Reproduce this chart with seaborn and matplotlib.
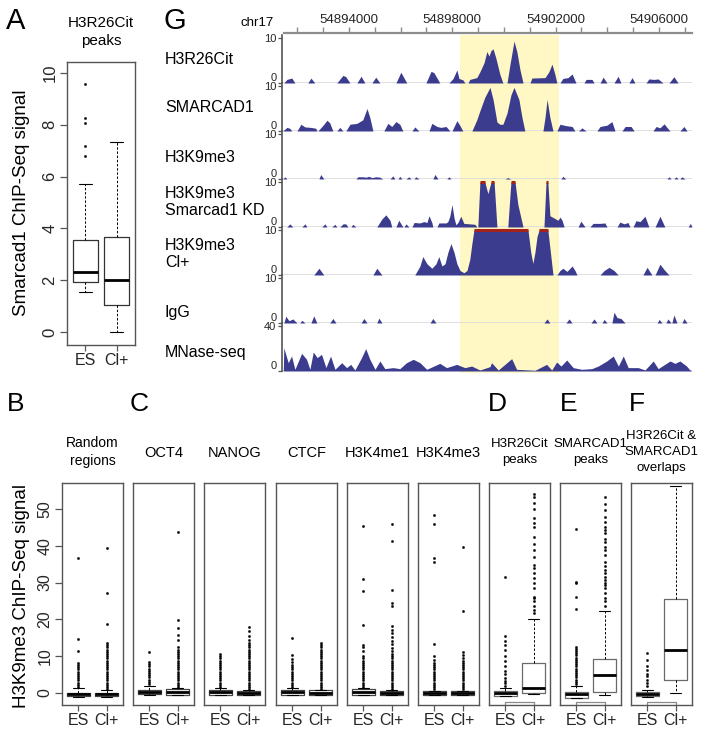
import numpy as np
import matplotlib
matplotlib.use("Agg")
import matplotlib.pyplot as plt
import seaborn as sns
from matplotlib import font_manager
from matplotlib.ticker import FixedLocator, MultipleLocator, FuncFormatter

# ---------------------------------------------------------------- data
conditions = ["ES", "Cl+"]

# Panel A: Smarcad1 ChIP-Seq signal at H3R26Cit peaks
A_title = "H3R26Cit\npeaks"
A_q1 = [1.92, 1.04]
A_med = [2.33, 2.01]
A_q3 = [3.54, 3.66]
A_lo = [1.53, 0.0]
A_hi = [5.70, 7.34]
A_out_es = [6.80, 7.18, 8.08, 8.25, 9.56]
A_out_cl = []

# Panels B-F: H3K9me3 ChIP-Seq signal
panel_titles = ["Random\nregions", "OCT4", "NANOG", "CTCF", "H3K4me1", "H3K4me3",
                "H3R26Cit\npeaks", "SMARCAD1\npeaks", "H3R26Cit &\nSMARCAD1\noverlaps"]
es_q1 = [-0.9, -0.4, -0.5, -0.5, -0.6, -0.6, -0.8, -1.4, -0.9]
es_med = [-0.4, 0.2, 0.2, 0.3, 0.3, -0.1, 0.0, -0.3, -0.3]
es_q3 = [0.0, 0.8, 0.7, 0.9, 1.0, 0.4, 0.5, 0.2, 0.3]
es_lo = [-1.0, -0.5, -0.6, -0.6, -0.7, -0.7, -0.9, -1.5, -1.0]
es_hi = [1.3, 1.9, 1.4, 1.4, 1.4, 0.6, 1.4, 2.0, 0.9]
cl_q1 = [-0.9, -0.5, -0.5, -0.5, -0.6, -0.6, -0.1, 0.2, 3.6]
cl_med = [-0.4, 0.3, 0.1, 0.1, 0.0, -0.1, 1.3, 4.8, 11.8]
cl_q3 = [0.0, 1.0, 0.6, 0.7, 0.6, 0.4, 8.0, 9.2, 25.6]
cl_lo = [-1.0, -0.6, -0.6, -0.6, -0.7, -0.7, -0.3, -0.5, 0.0]
cl_hi = [0.8, 1.4, 0.9, 0.9, 0.8, 0.6, 20.1, 22.2, 56.2]
es_outliers = [
    [1.6, 2.2, 2.8, 3.4, 4.0, 4.6, 5.2, 5.8, 6.4, 7.0, 7.6, 8.1, 11.3, 14.7, 36.6],
    [2.4, 3.0, 3.6, 4.2, 4.8, 5.4, 6.0, 6.6, 7.2, 7.8, 8.4, 11.0],
    [1.6, 2.2, 2.8, 3.4, 4.0, 4.6, 5.2, 5.8, 6.4, 7.0, 7.6, 8.2, 8.8, 9.4, 10.0, 10.6],
    [1.6, 2.2, 2.8, 3.4, 4.0, 4.6, 5.2, 5.8, 6.4, 7.0, 7.6, 8.3, 9.2, 10.3, 14.8],
    [1.6, 2.2, 2.8, 3.4, 4.0, 4.6, 5.2, 5.8, 6.4, 7.0, 7.6, 8.2, 8.8, 9.4, 10.0,
     11.5, 12.6, 13.1, 18.5, 27.8, 31.0, 45.5],
    [1.0, 1.6, 2.2, 2.8, 3.4, 4.0, 4.6, 5.2, 5.8, 6.4, 7.0, 7.6, 8.2, 8.9, 9.9,
     13.3, 35.7, 36.8, 45.9, 48.4],
    [2.0, 2.6, 3.2, 4.1, 5.0, 5.9, 7.2, 8.6, 9.9, 11.8, 13.1, 14.0, 15.4, 31.6],
    [2.4, 3.0, 3.6, 4.2, 4.8, 5.4, 6.0, 6.6, 7.2, 7.8, 8.4, 9.0, 9.6, 10.2, 10.8,
     11.4, 12.0, 12.6, 22.8, 26.2, 29.8, 30.3, 44.5],
    [1.8, 2.7, 3.6, 4.5, 5.2, 6.3, 7.4, 9.0, 10.8],
]
cl_outliers = [
    [1.0, 1.6, 2.2, 2.8, 3.4, 4.0, 4.6, 5.2, 5.8, 6.4, 7.0, 7.6, 8.2, 8.8, 9.4,
     10.0, 10.6, 11.2, 11.8, 12.4, 13.0, 13.6, 18.7, 27.1, 39.3],
    [1.6, 2.2, 2.8, 3.4, 4.0, 4.6, 5.2, 5.8, 6.4, 7.0, 7.6, 8.2, 8.8, 9.4, 10.0,
     10.6, 11.2, 11.8, 12.4, 14.5, 15.8, 17.6, 19.9, 43.7],
    [1.0, 1.6, 2.2, 2.8, 3.4, 4.0, 4.6, 5.2, 5.8, 6.4, 7.0, 7.6, 8.2, 8.8, 9.4,
     10.0, 10.6, 11.2, 11.8, 12.4, 13.0, 13.6, 14.5, 15.6, 16.7, 17.9],
    [1.0, 1.6, 2.2, 2.8, 3.4, 4.0, 4.6, 5.2, 5.8, 6.4, 7.0, 7.6, 8.2, 8.8, 9.4,
     10.0, 10.6, 11.2, 11.8, 12.4, 13.0, 13.6],
    [1.0, 1.6, 2.2, 2.8, 3.4, 4.0, 4.6, 5.2, 5.8, 6.4, 7.0, 7.6, 8.2, 8.8, 9.4,
     10.0, 10.6, 11.4, 12.3, 13.2, 14.0, 15.2, 16.3, 17.2, 18.1, 23.7, 24.4, 28.0,
     41.4, 45.9],
    [1.0, 1.6, 2.2, 2.8, 3.4, 4.0, 4.6, 5.2, 5.8, 6.4, 7.0, 7.6, 8.2, 8.8, 9.4,
     10.4, 11.0, 22.4, 39.8],
    [21.7, 22.6, 23.5, 24.9, 25.8, 26.2, 28.5, 29.8, 31.2, 32.5, 33.9, 34.8, 37.1,
     38.9, 40.5, 42.5, 45.2, 46.3, 47.6, 50.0, 51.7, 53.2, 54.2],
    [23.5, 24.9, 25.8, 27.1, 28.5, 29.4, 30.0, 30.7, 31.6, 32.5, 33.5, 34.4, 35.7,
     37.5, 38.9, 39.8, 41.1, 42.0, 43.4, 44.3, 45.2, 46.6, 47.9, 49.7, 51.5, 53.2],
    [],
]
bracket_panels = [6, 7, 8]

# Panel G: genome browser tracks (positions in kb after chr17:54,890,000)
chrom = "chr17"
chrom_offset_bp = 54890000
view_kb = (1.41, 17.28)
ruler_label_kb = [4, 8, 12, 16]
highlight_kb = (8.30, 12.13)

h3r26cit_kb = [1.48, 1.60, 1.79, 1.91, 2.41, 2.53, 2.68, 3.53, 3.77, 3.88, 4.04,
               4.31, 4.47, 4.62, 4.89, 5.04, 5.20, 5.82, 6.01, 6.24,
               6.98, 7.18, 7.29, 7.52, 7.87, 8.03, 8.18, 8.26, 8.41, 8.49,
               8.61, 8.68, 8.95, 9.07, 9.23, 9.34, 9.42, 9.50, 9.58, 9.69, 9.84, 9.96,
               10.12, 10.23, 10.39, 10.50, 10.62, 10.74,
               11.01, 11.08, 11.59, 11.74, 11.86, 11.97, 12.05,
               12.17, 12.28, 12.48, 12.64, 12.79, 13.10, 13.18, 13.41, 13.49,
               13.72, 13.84, 13.99, 14.26, 14.42, 14.53, 14.84, 14.96, 15.07,
               15.50, 15.61, 15.81, 15.97, 16.16, 16.39, 16.58, 16.74]
h3r26cit_sig = [0, 0.8, 1.1, 0, 0, 1.1, 0, 0, 1.7, 1.4, 0,
                0, 1.5, 0, 0, 1.3, 0, 0, 2.4, 0,
                0, 2.6, 2.3, 0, 0, 1.0, 2.9, 1.0, 0.7, 0,
                0, 0.8, 1.2, 2.5, 4.5, 7.0, 6.0, 7.2, 7.6, 5.5, 2.0, 0,
                0, 4.0, 9.3, 7.0, 3.0, 0,
                0, 1.1, 1.2, 2.5, 4.2, 2.0, 0,
                0, 1.0, 1.2, 2.0, 0, 0, 0.8, 0.8, 0,
                0, 1.3, 0, 0, 1.5, 0, 0, 1.2, 0,
                0, 0.9, 0.8, 0.9, 0, 0, 1.4, 0]

smarcad1_kb = [1.44, 1.60, 1.71, 1.79, 1.99, 2.14, 2.30, 2.53, 2.72, 2.76,
               2.80, 3.03, 3.15, 3.26, 3.38, 3.53, 3.65, 3.77,
               3.88, 4.04, 4.31, 4.54, 4.70, 4.81, 4.93,
               5.35, 5.51, 5.66, 5.82, 5.97, 6.09, 6.44, 6.55, 6.71,
               7.10, 7.21, 7.41, 7.56, 7.76, 7.91, 7.99, 8.18, 8.30, 8.41,
               8.76, 8.95, 9.07, 9.26, 9.46, 9.58, 9.73, 9.84, 9.96, 10.12, 10.27,
               10.39, 10.58, 10.70, 10.81,
               11.51, 11.59, 11.67, 11.78, 11.90, 12.05, 12.17, 12.40, 12.64, 12.75,
               12.89, 13.02, 13.18, 13.60, 13.72, 13.99, 14.18, 14.30,
               14.57, 14.69, 14.92, 15.04, 15.77, 15.89, 16.04, 16.20, 16.31, 16.43,
               16.81, 16.97, 17.09]
smarcad1_sig = [0, 0.8, 0.6, 0, 0, 1.5, 0.9, 0.8, 0.6, 0,
                0, 1.5, 2.4, 1.8, 0, 0, 0.8, 0,
                0, 1.5, 1.7, 2.5, 5.0, 3.0, 0,
                0, 1.7, 1.0, 2.1, 1.5, 0, 0, 0.9, 0,
                0, 1.7, 1.0, 0.8, 1.0, 0, 0, 2.3, 1.2, 0,
                0, 2.5, 4.5, 7.5, 9.7, 7.0, 2.0, 1.5, 1.5, 4.0, 8.0,
                9.7, 7.0, 3.0, 0,
                0, 3.0, 7.0, 3.0, 0, 0, 1.5, 1.2, 1.0, 0,
                0, 0.7, 0, 0, 1.0, 1.3, 2.1, 0,
                0, 1.0, 1.0, 0, 0, 1.0, 0.7, 1.6, 0.8, 0,
                0, 1.0, 0]

h3k9me3_kb = [1.44, 1.52, 1.60, 2.84, 2.91, 3.03,
              4.27, 4.35, 4.54, 4.66, 4.77, 4.89, 5.04, 5.20, 5.31,
              5.59, 5.70, 5.78, 5.90, 5.97, 6.05, 6.21, 6.32, 6.40, 6.52, 6.59, 6.71,
              7.25, 7.33, 7.45, 7.79, 7.87, 7.95, 10.04, 10.15, 10.27,
              12.21, 12.28, 12.40, 16.31, 16.39, 16.47, 16.58, 16.66, 16.74,
              16.81, 16.89, 17.01]
h3k9me3_sig = [0, 0.5, 0, 0, 1.0, 0,
               0, 0.5, 0.5, 0.4, 0.6, 0.3, 0.5, 0.4, 0,
               0, 0.7, 0, 0, 0.6, 0, 0, 0.5, 0, 0, 0.5, 0,
               0, 1.0, 0, 0, 0.5, 0, 0, 0.3, 0,
               0, 0.6, 0, 0, 0.5, 0, 0, 0.5, 0,
               0, 0.5, 0]

kd_kb = [1.60, 1.71, 1.83, 2.18, 2.30, 2.37, 2.95, 3.07, 3.15, 3.34, 3.46, 3.53,
         3.65, 3.77, 3.88, 3.96, 4.08, 4.15, 4.27,
         5.08, 5.28, 5.43, 5.59, 5.66, 5.82, 5.93, 6.09, 6.13, 6.21, 6.32,
         6.44, 6.52, 6.75, 6.90, 7.02, 7.10, 7.21, 7.25,
         7.41, 7.48, 7.76, 7.83, 7.91, 7.99, 8.07, 8.14, 8.22, 8.33, 8.45, 8.68, 8.88, 8.95,
         8.99, 9.07, 9.26, 9.38, 9.50, 9.62, 9.73,
         10.15, 10.27, 10.43, 10.54, 10.66, 10.74,
         11.55, 11.63, 11.70, 11.78, 11.94, 12.09, 12.17, 12.25, 12.33,
         12.87, 12.98, 13.14, 13.33, 13.45, 13.72, 13.91, 13.99,
         14.38, 14.49, 14.65, 14.80, 14.88, 15.00, 15.11, 15.27, 15.46, 15.61,
         15.85, 16.04, 16.23, 17.13, 17.22, 17.28]
kd_sig = [0, 0.7, 0, 0, 0.7, 0, 0, 0.7, 0, 0, 0.6, 0,
          0, 0.7, 0.7, 0, 0, 0.6, 0,
          0, 1.8, 2.7, 1.5, 0, 0, 1.5, 0, 0, 0.7, 0,
          0, 1.0, 0.9, 1.2, 1.0, 2.5, 1.0, 0,
          0, 0.9, 0.9, 1.2, 2.5, 5.0, 2.0, 0.5, 1.0, 2.4, 0.8, 0.7, 0.6, 0,
          0, 10, 10, 7.4, 10, 10, 0,
          0, 10, 10, 5.0, 2.0, 0,
          0, 10, 10, 2.5, 2.0, 1.5, 2.2, 1.5, 0,
          0, 1.3, 0, 0, 0.8, 0.8, 0.9, 0,
          0, 1.1, 0.7, 1.0, 0, 0, 1.4, 1.2, 2.4, 0,
          0, 2.4, 0, 0, 0.8, 0]

cl_kb = [2.64, 2.84, 3.03, 4.93, 5.08, 5.28,
         6.55, 6.75, 6.86, 7.02, 7.21, 7.37, 7.48, 7.60, 7.72, 7.83,
         7.95, 8.07, 8.18, 8.30, 8.45, 8.57, 8.68, 8.76, 8.84,
         10.93, 11.04, 11.12, 11.20, 11.28, 11.36, 11.70, 11.78, 11.90,
         12.05, 12.17, 12.28, 12.44, 12.64, 12.75, 12.83,
         13.72, 13.88, 14.07, 14.26, 14.42, 15.38, 15.54, 15.73,
         15.85, 16.04, 16.20, 16.39]
cl_sig = [0, 1.5, 0, 0, 1.5, 0,
          0, 2.0, 4.1, 2.5, 1.5, 2.5, 4.1, 2.0, 2.5, 5.0,
          7.0, 5.0, 2.5, 1.0, 0.5, 1.0, 3.5, 7.0, 10,
          10, 5.0, 2.6, 5.0, 8.5, 10, 10, 6.0, 0,
          0, 1.0, 1.5, 0.8, 2.0, 1.0, 0,
          0, 1.0, 1.7, 1.0, 0, 0, 1.7, 0,
          0, 2.4, 1.2, 0]

igg_kb = [1.48, 1.56, 1.68, 1.83, 1.99, 2.10, 2.18, 2.30, 2.53, 2.64, 2.76,
          3.26, 3.38, 3.50, 4.47, 4.58, 4.70, 5.08, 5.16, 5.28, 7.14, 7.25, 7.37,
          11.55, 11.67, 11.78, 12.40, 12.52, 12.64, 13.37, 13.49, 13.60,
          13.80, 13.88, 13.99, 14.18, 14.26, 14.38, 14.53, 14.69,
          15.93, 16.01, 16.12, 16.27, 16.35, 16.47, 16.50, 16.58, 16.70,
          16.89, 16.97, 17.09]
igg_sig = [0, 1.5, 0.5, 0.9, 0, 0, 0.6, 0, 0, 1.6, 0,
           0, 1.0, 0, 0, 1.0, 0, 0, 1.1, 0, 0, 1.0, 0,
           0, 0.9, 0, 0, 0.9, 0, 0, 0.9, 0,
           0, 0.8, 0, 0, 2.4, 1.2, 1.0, 0,
           0, 0.8, 0, 0, 0.9, 0, 0, 1.8, 0,
           0, 1.0, 0]

mnase_kb = [1.41, 1.46, 1.48, 1.65, 1.78, 1.91, 2.17, 2.36, 2.49, 2.62,
            2.77, 2.94, 3.11, 3.29, 3.46, 3.72, 3.91, 4.07, 4.23, 4.49,
            4.65, 4.81, 5.01, 5.20, 5.39, 5.71, 5.97, 6.23, 6.49, 6.75,
            7.01, 7.52, 7.78, 8.17, 8.49, 8.75, 9.07, 9.46, 9.52, 9.78,
            10.30, 10.49, 11.20, 11.65, 11.85, 12.04, 12.21, 12.43, 12.68, 13.01,
            13.40, 13.65, 13.98, 14.23, 14.43, 14.62, 14.81, 15.20, 15.46, 15.78,
            15.97, 16.43, 16.62, 16.81, 17.07, 17.20, 17.28]
mnase_sig = [0, 0, 20.7, 7.4, 13.3, 1.5, 15.7, 10.4, 1.5, 16.9,
             11.9, 14.8, 3.0, 13.3, 1.5, 7.4, 3.0, 5.9, 0.9, 11.9,
             19.9, 10.4, 1.5, 8.9, 2.1, 3.0, 2.1, 7.4, 10.4, 7.4,
             1.5, 6.8, 3.0, 5.9, 3.0, 4.4, 0.9, 3.9, 7.4, 0.9,
             11.0, 1.5, 0.6, 5.9, 0.9, 8.0, 4.4, 9.8, 3.0, 1.5,
             2.1, 4.4, 8.9, 13.3, 4.4, 13.3, 3.0, 3.0, 0.9, 8.9,
             2.1, 8.9, 6.8, 8.9, 4.4, 0.9, 0]

track_names = ["H3R26Cit", "SMARCAD1", "H3K9me3", "H3K9me3\nSmarcad1 KD",
               "H3K9me3\nCl+", "IgG", "MNase-seq"]
track_kb = [h3r26cit_kb, smarcad1_kb, h3k9me3_kb, kd_kb, cl_kb, igg_kb, mnase_kb]
track_sig = [h3r26cit_sig, smarcad1_sig, h3k9me3_sig, kd_sig, cl_sig, igg_sig, mnase_sig]
track_max = [10, 10, 10, 10, 10, 10, 40]

# ---------------------------------------------------------------- style
sns.set_theme(style="ticks")
_names = {f.name for f in font_manager.fontManager.ttflist}
REG = "Liberation Sans" if "Liberation Sans" in _names else "DejaVu Sans"
NARROW = "Liberation Sans Narrow" if "Liberation Sans Narrow" in _names else REG
plt.rcParams["font.family"] = [REG, "DejaVu Sans"]
plt.rcParams["text.color"] = "black"

NAVY = "#3c3c8e"
YELLOW = "#fff8c4"
CLIPRED = "#a3231c"
SPINE = "#555555"

W, H = 704, 737
fig = plt.figure(figsize=(W / 100, H / 100), dpi=100)
fig.patch.set_facecolor("white")


def rect(x0, y0, x1, y1):
    return [x0 / W, 1 - y1 / H, (x1 - x0) / W, (y1 - y0) / H]


def ftext(x, y, s, **kw):
    fig.text(x / W, 1 - y / H, s, **kw)


def draw_boxes(ax, q1, med, q3, lo, hi, outs, edge):
    stats = []
    for i in range(2):
        stats.append(dict(q1=q1[i], med=med[i], q3=q3[i], whislo=lo[i],
                          whishi=hi[i], fliers=[], label=conditions[i]))
    ax.bxp(stats, positions=[1, 2], widths=0.8, capwidths=0.4, showfliers=False,
           boxprops=dict(color=edge, lw=0.9),
           medianprops=dict(color="black", lw=2.0, solid_capstyle="butt"),
           whiskerprops=dict(color="black", lw=0.7, ls=(0, (2.5, 1.8))),
           capprops=dict(color="black", lw=0.8))
    for pos, fl in zip([1, 2], outs):
        if len(fl):
            sns.scatterplot(x=[pos] * len(fl), y=fl, ax=ax, s=3, color="black",
                            edgecolor="black", linewidth=0.2, legend=False, zorder=4)
    ax.set_xlim(0.42, 2.58)
    ax.set_xticks([1, 2])
    ax.set_xticklabels(conditions, fontsize=11.5, family=[NARROW, "DejaVu Sans"])
    ax.set_xlabel("")
    ax.set_ylabel("")
    for s in ax.spines.values():
        s.set_visible(True)
        s.set_color(SPINE)
        s.set_linewidth(1.0)
    ax.tick_params(axis="x", length=4, width=0.9, color=SPINE, pad=1.5,
                   direction="out", bottom=True, top=False)


# ---------------------------------------------------------------- panel A
axA = fig.add_axes(rect(67, 62, 135, 345))
draw_boxes(axA, A_q1, A_med, A_q3, A_lo, A_hi, [A_out_es, A_out_cl], "#333333")
axA.set_ylim(-0.5, 10.42)
axA.set_yticks([0, 2, 4, 6, 8, 10])
axA.tick_params(axis="y", length=5, width=0.9, color=SPINE, pad=2, left=True,
                right=False, labelsize=12, labelrotation=90)
for t in axA.get_yticklabels():
    t.set_family([NARROW, "DejaVu Sans"])
    t.set_va("center")
ftext(101, 32, A_title, ha="center", va="center", fontsize=11,
      family=[NARROW, "DejaVu Sans"], linespacing=1.35)
ftext(22, 203, "Smarcad1 ChIP-Seq signal", rotation=90, ha="center", va="center",
      fontsize=13.5)

# ---------------------------------------------------------------- panels B-F
lefts = [62, 133, 204, 276, 347, 418, 489, 560, 631]
title_y = [452, 453, 453, 453, 453, 453, 452, 452, 452]
title_fs = [10, 10.5, 10.5, 10.5, 10.5, 10.5, 9.5, 9.5, 9.5]
for i, x0 in enumerate(lefts):
    ax = fig.add_axes(rect(x0, 483, x0 + 61, 705))
    edge = "#6a6a6a" if i >= 6 else "#444444"
    draw_boxes(ax, [es_q1[i], cl_q1[i]], [es_med[i], cl_med[i]],
               [es_q3[i], cl_q3[i]], [es_lo[i], cl_lo[i]], [es_hi[i], cl_hi[i]],
               [es_outliers[i], cl_outliers[i]], edge)
    ax.set_ylim(-3.3, 57.1)
    if i in bracket_panels:
        ax.plot([1, 1, 2, 2], [-3.3, -2.4, -2.4, -3.3], color="#8a8a8a", lw=0.9,
                clip_on=False, zorder=2)
    if i == 0:
        ax.set_yticks([0, 10, 20, 30, 40, 50])
        ax.tick_params(axis="y", length=5, width=0.9, color=SPINE, pad=2, left=True,
                       labelsize=11.5, labelrotation=90)
        for t in ax.get_yticklabels():
            t.set_family([NARROW, "DejaVu Sans"])
            t.set_va("center")
    else:
        ax.set_yticks([])
        ax.tick_params(axis="y", left=False, labelleft=False)
    ftext(x0 + 30.5, title_y[i], panel_titles[i], ha="center", va="center",
          fontsize=title_fs[i], family=[NARROW, "DejaVu Sans"], linespacing=1.45)

ftext(22, 596, "H3K9me3 ChIP-Seq signal", rotation=90, ha="center", va="center",
      fontsize=13.5)

# ---------------------------------------------------------------- panel G
bg = fig.add_axes(rect(282, 35, 692, 373), zorder=0)
bg.set_xlim(*view_kb)
bg.set_ylim(0, 1)
bg.axvspan(highlight_kb[0], highlight_kb[1], color=YELLOW, lw=0)
bg.axis("off")

ruler = fig.add_axes(rect(282, 33, 692, 36), zorder=2)
ruler.set_facecolor("none")
ruler.set_xlim(*view_kb)
ruler.set_ylim(0, 1)
ruler.set_yticks([])
for name, s in ruler.spines.items():
    s.set_visible(name == "top")
ruler.spines["top"].set_color("#8c8c8c")
ruler.spines["top"].set_linewidth(1.6)
ruler.spines["top"].set_bounds(1.48, view_kb[1])
ruler.xaxis.tick_top()
ruler.xaxis.set_major_locator(FixedLocator(ruler_label_kb))
ruler.xaxis.set_minor_locator(MultipleLocator(1))
ruler.xaxis.set_major_formatter(
    FuncFormatter(lambda v, p: f"{int(round(chrom_offset_bp + v * 1000))}"))
ruler.tick_params(axis="x", which="both", direction="out", length=4, width=1,
                  color="#8c8c8c", top=True, bottom=False, labeltop=True,
                  labelbottom=False, labelsize=9.5, pad=1)
ftext(257, 23, chrom, ha="center", va="center", fontsize=9.5)

track_tops = [38, 86, 134, 182, 230, 278, 326]
label_y = [60, 108, 157, 202, 254, 313, 352]
for k in range(7):
    top = track_tops[k]
    base = top + 45
    ax = fig.add_axes(rect(282, top - 3, 692, base), zorder=1)
    ax.set_facecolor("none")
    mx = track_max[k]
    ax.set_xlim(*view_kb)
    ax.set_ylim(0, mx * 48 / 45)
    x = np.asarray(track_kb[k], dtype=float)
    y = np.asarray(track_sig[k], dtype=float)
    ax.axhline(0, color="#dcdcdc", lw=1.3, zorder=1)
    ax.fill_between(x, 0, np.minimum(y, mx), color=NAVY, lw=0, zorder=2)
    clip = np.where(y >= mx, mx, np.nan)
    ax.plot(x, clip, color=CLIPRED, lw=2.2, solid_capstyle="butt", zorder=3)
    for name, s in ax.spines.items():
        s.set_visible(name == "left")
    ax.spines["left"].set_color(SPINE)
    ax.spines["left"].set_linewidth(1.2)
    ax.set_xticks([])
    ax.set_yticks([0, mx])
    ax.set_yticklabels(["0", str(mx)])
    ax.tick_params(axis="y", length=3, width=0.9, color=SPINE, pad=1, labelsize=8,
                   left=True)
    ax.get_yticklabels()[0].set_va("bottom")
    ftext(165, label_y[k], track_names[k], ha="left", va="center", fontsize=11.5,
          linespacing=1.2)

# ---------------------------------------------------------------- panel letters
for letter, (lx, ly), fs in [("A", (16, 21), 21), ("G", (175, 21), 21),
                             ("B", (16, 404), 19), ("C", (139, 404), 19),
                             ("D", (497, 404), 19), ("E", (569, 404), 19),
                             ("F", (637, 404), 19)]:
    ftext(lx, ly, letter, ha="center", va="center", fontsize=fs)

fig.savefig("out.png", dpi=100)
